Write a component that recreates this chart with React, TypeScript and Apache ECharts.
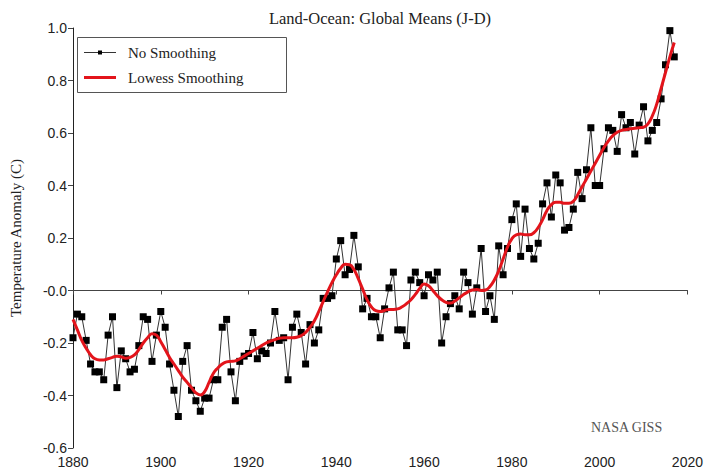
import React, { useEffect, useRef } from "react";
import * as echarts from "echarts";

// Annual global land-ocean temperature anomaly (°C), January–December means
const years: number[] = [];
for (let y = 1880; y <= 2017; y++) years.push(y);

const annualMeans: number[] = [
  -0.18, -0.09, -0.10, -0.19, -0.28, -0.31, -0.31, -0.34, -0.17, -0.10,
  -0.37, -0.23, -0.26, -0.31, -0.30, -0.21, -0.10, -0.11, -0.27, -0.17,
  -0.08, -0.14, -0.28, -0.38, -0.48, -0.27, -0.21, -0.38, -0.42, -0.46,
  -0.41, -0.41, -0.34, -0.34, -0.14, -0.11, -0.31, -0.42, -0.27, -0.25,
  -0.24, -0.16, -0.26, -0.23, -0.24, -0.20, -0.08, -0.19, -0.18, -0.34,
  -0.14, -0.09, -0.16, -0.28, -0.13, -0.20, -0.15, -0.03, -0.03, -0.02,
  0.12, 0.19, 0.06, 0.08, 0.21, 0.09, -0.07, -0.03, -0.10, -0.10,
  -0.18, -0.07, 0.01, 0.07, -0.15, -0.15, -0.21, 0.04, 0.07, 0.03,
  -0.02, 0.06, 0.04, 0.07, -0.20, -0.10, -0.05, -0.02, -0.07, 0.07,
  0.03, -0.09, 0.01, 0.16, -0.08, -0.02, -0.11, 0.17, 0.06, 0.16,
  0.27, 0.33, 0.13, 0.31, 0.16, 0.12, 0.18, 0.33, 0.41, 0.28,
  0.44, 0.41, 0.23, 0.24, 0.31, 0.45, 0.35, 0.46, 0.62, 0.40,
  0.40, 0.54, 0.62, 0.61, 0.53, 0.67, 0.62, 0.64, 0.52, 0.63,
  0.70, 0.57, 0.61, 0.64, 0.73, 0.86, 0.99, 0.89,
];

// Lowess-smoothed anomaly (°C)
const lowessMeans: number[] = [
  -0.11, -0.15, -0.19, -0.22, -0.245, -0.26, -0.265, -0.265, -0.26, -0.255,
  -0.25, -0.253, -0.258, -0.255, -0.245, -0.225, -0.20, -0.18, -0.165, -0.17,
  -0.195, -0.225, -0.255, -0.28, -0.305, -0.33, -0.35, -0.37, -0.39, -0.398,
  -0.385, -0.35, -0.315, -0.295, -0.28, -0.272, -0.27, -0.268, -0.26, -0.25,
  -0.24, -0.23, -0.22, -0.21, -0.20, -0.193, -0.187, -0.182, -0.18, -0.18,
  -0.18, -0.178, -0.172, -0.16, -0.14, -0.115, -0.08, -0.042, -0.005, 0.03,
  0.06, 0.085, 0.10, 0.098, 0.08, 0.045, 0.005, -0.035, -0.063, -0.077,
  -0.08, -0.076, -0.072, -0.072, -0.07, -0.062, -0.05, -0.035, -0.015, 0.008,
  0.025, 0.018, 0.0, -0.02, -0.035, -0.045, -0.048, -0.04, -0.028, -0.015,
  -0.005, 0.002, 0.004, 0.0, 0.002, 0.015, 0.04, 0.075, 0.12, 0.165,
  0.197, 0.212, 0.215, 0.212, 0.212, 0.22, 0.24, 0.27, 0.305, 0.327,
  0.336, 0.336, 0.332, 0.332, 0.34, 0.365, 0.395, 0.425, 0.455, 0.485,
  0.515, 0.545, 0.57, 0.59, 0.603, 0.61, 0.613, 0.616, 0.618, 0.62,
  0.622, 0.635, 0.665, 0.71, 0.77, 0.83, 0.89, 0.945,
];

const seriesNames: string[] = ["No Smoothing", "Lowess Smoothing"];

const SERIF = "'Liberation Serif', 'Times New Roman', serif";
const SANS = "'Liberation Sans', Arial, sans-serif";
const RED = "#e3141b";

export default function App() {
  const ref = useRef<HTMLDivElement>(null);

  useEffect(() => {
    if (!ref.current) return;
    const chart = echarts.init(ref.current, undefined, { renderer: "svg" });

    // Boxed key in the upper-left corner of the plot
    const legendBox = {
      type: "group",
      left: 77,
      top: 37,
      children: [
        {
          type: "rect",
          shape: { x: 0.5, y: 0.5, width: 209, height: 55 },
          style: { fill: "#fff", stroke: "#555", lineWidth: 1 },
        },
        {
          type: "line",
          shape: { x1: 7, y1: 15.5, x2: 39, y2: 15.5 },
          style: { stroke: "#333", lineWidth: 1 },
        },
        {
          type: "rect",
          shape: { x: 21, y: 13.5, width: 4, height: 4 },
          style: { fill: "#000" },
        },
        {
          type: "text",
          x: 51,
          y: 15.5,
          style: {
            text: seriesNames[0],
            fontFamily: SERIF,
            fontSize: 15,
            fill: "#222",
            verticalAlign: "middle",
          },
        },
        {
          type: "line",
          shape: { x1: 7, y1: 40.5, x2: 39, y2: 40.5 },
          style: { stroke: RED, lineWidth: 3 },
        },
        {
          type: "text",
          x: 51,
          y: 40.5,
          style: {
            text: seriesNames[1],
            fontFamily: SERIF,
            fontSize: 15,
            fill: "#222",
            verticalAlign: "middle",
          },
        },
      ],
      z: 100,
    };

    chart.setOption({
      animation: false,
      backgroundColor: "#ffffff",
      grid: { left: 69, right: 17, top: 28, bottom: 22 },
      xAxis: {
        type: "value",
        min: 1880,
        max: 2020,
        interval: 20,
        splitLine: { show: false },
        axisLine: { lineStyle: { color: "#444", width: 1 } },
        axisTick: { show: true, length: 4, lineStyle: { color: "#444" } },
        axisLabel: {
          fontFamily: SANS,
          fontSize: 14,
          color: "#222",
          margin: 7,
          formatter: (v: number) => String(v),
        },
      },
      yAxis: {
        type: "value",
        min: -0.6,
        max: 1.0,
        interval: 0.2,
        name: "Temperature Anomaly (C)",
        nameLocation: "middle",
        nameGap: 50,
        nameTextStyle: { fontFamily: SERIF, fontSize: 15, color: "#222" },
        splitLine: { show: false },
        axisLine: { show: true, lineStyle: { color: "#222", width: 1 } },
        axisTick: { show: true, length: 5, lineStyle: { color: "#444" } },
        axisLabel: {
          fontFamily: SANS,
          fontSize: 14,
          color: "#222",
          margin: 6,
          formatter: (v: number) => {
            const r = Math.round(v * 10) / 10;
            if (r === 0) return "-0.0";
            return r.toFixed(1);
          },
        },
      },
      graphic: [
        {
          type: "text",
          x: 380,
          y: 18,
          style: {
            text: "Land-Ocean: Global Means (J-D)",
            fontFamily: SERIF,
            fontSize: 16.5,
            fill: "#222",
            align: "center",
            verticalAlign: "middle",
          },
        },
        legendBox,
        {
          type: "text",
          left: 591,
          top: 420,
          style: { text: "NASA GISS", fontFamily: SERIF, fontSize: 14, fill: "#555" },
        },
      ],
      series: [
        {
          name: seriesNames[0],
          type: "line",
          data: years.map((y, i) => [y, annualMeans[i]]),
          symbol: "rect",
          symbolSize: 7,
          showSymbol: true,
          lineStyle: { color: "#333", width: 1 },
          itemStyle: { color: "#000" },
          z: 2,
        },
        {
          name: seriesNames[1],
          type: "line",
          data: years.map((y, i) => [y, lowessMeans[i]]),
          showSymbol: false,
          symbol: "none",
          smooth: 0.5,
          lineStyle: { color: RED, width: 3 },
          itemStyle: { color: RED },
          z: 3,
        },
      ],
    });

    return () => chart.dispose();
  }, []);

  return <div ref={ref} style={{ width: 706, height: 470, position: "absolute", left: 0, top: 0 }} />;
}
